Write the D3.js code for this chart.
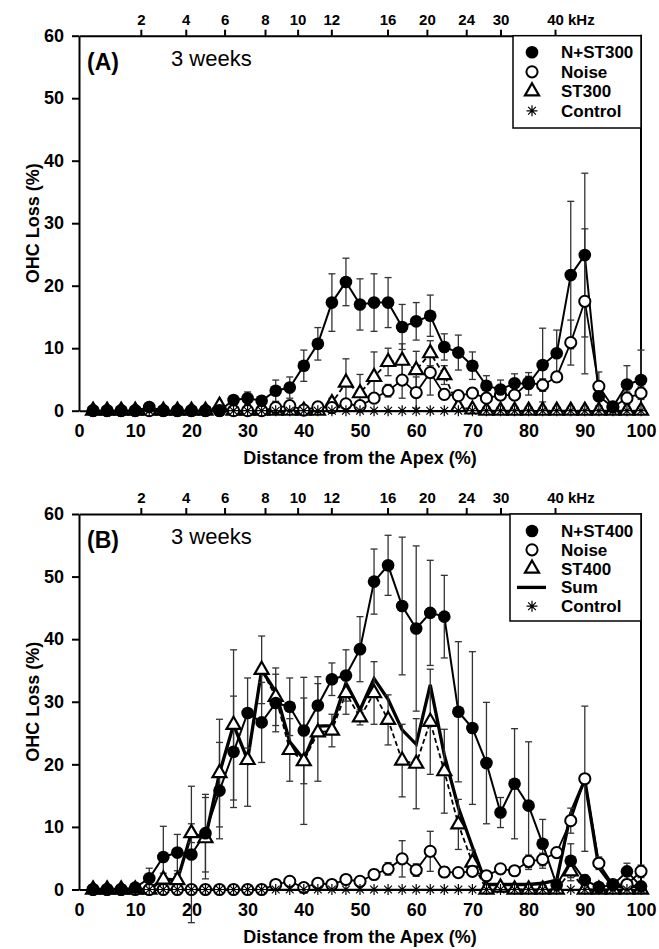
<!DOCTYPE html>
<html>
<head>
<meta charset="utf-8">
<script src="https://cdn.jsdelivr.net/npm/d3@7"></script>
<style>
  body { margin: 0; background: #fff; }
  svg { display: block; font-family: Arial, "Liberation Sans", sans-serif; }
</style>
</head>
<body>
<svg width="659" height="949"></svg>
<script>
// distance from the apex (%) of every sampled point
var distance = [2.5, 5, 7.5, 10, 12.5, 15, 17.5, 20, 22.5, 25,
  27.5, 30, 32.5, 35, 37.5, 40, 42.5, 45, 47.5, 50,
  52.5, 55, 57.5, 60, 62.5, 65, 67.5, 70, 72.5, 75,
  77.5, 80, 82.5, 85, 87.5, 90, 92.5, 95, 97.5, 100];

// axis ticks
var xTicks = [0, 10, 20, 30, 40, 50, 60, 70, 80, 90, 100];
var yTicks = [0, 10, 20, 30, 40, 50, 60];
var freqLabels = ["2", "4", "6", "8", "10", "12", "16", "20", "24", "30", "40"];
var freqDistance = [11.0, 19.0, 25.9, 33.1, 38.9, 44.9, 54.9, 61.9, 68.9, 75.0, 84.7];

// panel A: OHC loss (%) and error
var nst300 = [0, 0, 0, 0, 0.6, 0, 0, 0, 0, 0,
  1.7, 2.0, 1.6, 3.2, 3.7, 7.2, 10.7, 17.3, 20.6, 17.0,
  17.3, 17.3, 13.4, 14.3, 15.2, 10.2, 9.3, 7.2, 4.0, 3.4,
  4.4, 4.3, 7.3, 9.2, 21.7, 24.9, 2.3, 0.6, 4.2, 4.9];
var nst300Err = [0, 0, 0, 0, 0.3, 0, 0, 0, 0, 0,
  0.7, 1.0, 0.5, 1.7, 1.7, 2.5, 2.6, 4.6, 3.8, 4.1,
  4.6, 4.0, 3.6, 3.0, 3.3, 2.1, 2.8, 2.2, 1.6, 1.5,
  1.5, 1.8, 5.9, 3.7, 11.8, 13.1, 1.5, 0.3, 3.0, 4.8];
var noiseA = [0, 0, 0, 0, 0, 0, 0, 0, 0, 0,
  0, 0, 0, 0.5, 0.8, 0.1, 0.6, 0.5, 1.1, 0.8,
  2.0, 3.2, 4.9, 2.9, 6.1, 2.6, 2.4, 2.8, 2.0, 2.5,
  2.5, 4.5, 4.1, 5.4, 10.9, 17.5, 3.9, 0.6, 2.0, 2.8];
var noiseAErr = [0, 0, 0, 0, 0, 0, 0, 0, 0, 0,
  0, 0, 0, 0.5, 0.5, 0.3, 0.5, 0.5, 0.6, 0.6,
  0.5, 1.0, 2.9, 2.5, 3.6, 0.8, 0.5, 0.8, 0.5, 0.5,
  0.5, 1.0, 1.0, 0.8, 3.6, 11.6, 2.3, 0.3, 1.0, 1.0];
var st300 = [0, 0, 0, 0, 0, 0, 0, 0, 0, 0.8,
  0, 0, 0, 0, 0, 0, 0, 1.2, 4.5, 2.8,
  5.4, 7.8, 8.0, 6.5, 9.2, 5.7, 0.6, 0.2, 0, 0,
  0, 0, 0, 0, 0, 0, 0, 0, 0, 0];
var st300Err = [0, 0, 0, 0, 0, 0, 0, 0, 0, 0,
  0, 0, 0, 0, 0, 0, 0, 0.8, 3.8, 3.0,
  4.0, 2.2, 2.7, 3.0, 2.0, 1.5, 0.5, 0, 0, 0,
  0, 0, 0, 0, 0, 0, 0, 0, 0, 0];

// panel B
var nst400 = [0, 0, 0, 0.3, 1.8, 5.2, 5.9, 5.6, 9.0, 15.8,
  22.0, 28.2, 26.7, 29.8, 29.2, 25.4, 29.4, 33.6, 34.2, 38.4,
  49.2, 51.8, 45.3, 41.7, 44.2, 43.6, 28.4, 25.8, 20.2, 12.3,
  16.9, 13.4, 7.3, 0.7, 4.6, 1.5, 0.4, 0.7, 2.9, 0.5];
var nst400Err = [0, 0, 0, 0.3, 1.6, 4.9, 2.9, 10.9, 6.2, 7.7,
  8.9, 5.6, 6.4, 4.6, 4.6, 8.5, 4.6, 2.6, 4.1, 5.2,
  5.2, 4.8, 11.0, 13.2, 8.4, 6.6, 11.2, 12.2, 9.7, 2.4,
  8.8, 10.2, 3.9, 1.0, 2.7, 0.8, 0.5, 0, 1.3, 0.5];
var noiseB = [0, 0, 0, 0, 0, 0, 0, 0, 0, 0,
  0, 0, 0, 0.8, 1.3, 0.3, 1.0, 0.8, 1.6, 1.3,
  2.4, 3.3, 4.9, 3.1, 6.1, 2.8, 2.7, 2.9, 2.2, 3.3,
  3.0, 4.5, 4.8, 5.9, 11.0, 17.7, 4.2, 0.8, 0.8, 2.9];
var noiseBErr = [0, 0, 0, 0, 0, 0, 0, 0, 0, 0,
  0, 0, 0, 0.5, 0.5, 0.3, 0.5, 0.5, 0.5, 0.5,
  0.8, 1.0, 2.9, 1.0, 3.2, 0.8, 0.5, 0.5, 0.5, 0.5,
  0.5, 1.0, 1.0, 0.8, 2.0, 11.6, 1.0, 0.3, 0.5, 1.0];
var st400 = [0, 0, 0, 0, 0, 1.6, 1.5, 9.0, 8.2, 18.6,
  26.3, 20.7, 35.1, 30.8, 22.3, 20.5, 25.1, 25.4, 31.4, 27.5,
  31.4, 27.1, 20.6, 20.1, 26.8, 18.9, 10.4, 4.3, 0, 0.3,
  0, 0, 0, 0, 2.9, 0, 0, 0, 0, 0];
var st400Err = [0, 0, 0, 0, 0, 1.0, 1.0, 1.5, 6.5, 8.6,
  12.0, 7.4, 5.4, 4.6, 5.0, 10.1, 7.8, 2.6, 3.4, 1.2,
  5.0, 4.0, 5.8, 7.2, 8.4, 6.7, 4.0, 2.0, 0, 0,
  0, 0, 0, 0, 1.5, 0, 0, 0, 0, 0];
var sumB = [0, 0, 0, 0, 0, 1.7, 1.5, 9.0, 8.2, 18.6,
  26.3, 20.7, 35.1, 31.6, 23.6, 20.8, 26.1, 26.2, 33.0, 28.7,
  33.7, 30.4, 25.5, 23.2, 32.7, 21.5, 13.1, 6.8, 0.8, 0.8,
  0.8, 0.8, 1.0, 1.5, 12.2, 17.5, 3.5, 0.5, 0.5, 0.5];

// control is flat at zero in both panels
var control = [0, 0, 0, 0, 0, 0, 0, 0, 0, 0,
  0, 0, 0, 0, 0, 0, 0, 0, 0, 0,
  0, 0, 0, 0, 0, 0, 0, 0, 0, 0,
  0, 0, 0, 0, 0, 0, 0, 0, 0, 0];

// 8 armed asterisk, the library one only has 6
var asterisk = {
  draw: function(context, size) {
    let r = Math.sqrt(size) / 2;
    let d = r * Math.SQRT1_2;
    context.moveTo(-r, 0); context.lineTo(r, 0);
    context.moveTo(0, -r); context.lineTo(0, r);
    context.moveTo(-d, -d); context.lineTo(d, d);
    context.moveTo(-d, d); context.lineTo(d, -d);
  }
};

var markers = {
  filled: { type: d3.symbolCircle, size: 125, fill: "#000", stroke: "none", sw: 0 },
  open: { type: d3.symbolCircle, size: 98, fill: "#fff", stroke: "#000", sw: 2 },
  tri: { type: d3.symbolTriangle, size: 85, fill: "#fff", stroke: "#000", sw: 2.2 },
  star: { type: asterisk, size: 120, fill: "none", stroke: "#000", sw: 1.2 }
};

var svg = d3.select("svg");
var x = d3.scaleLinear().domain([0, 100]).range([79, 641]);

var toPoints = function(values, errs) {
  return values.map(function(v, i) {
    return { x: distance[i], y: v, e: errs ? errs[i] : 0 };
  });
};

var drawPanel = function(cfg) {
  let y = d3.scaleLinear().domain([0, 60]).range([cfg.bottom, cfg.top]);
  let g = svg.append("g");

  // axes: left with outward ticks, top with frequency ticks
  let yAxis = d3.axisLeft(y).tickValues(yTicks).tickSize(7).tickPadding(8).tickSizeOuter(0);
  let yGroup = g.append("g").attr("transform", "translate(" + x(0) + ",0)").call(yAxis);

  let xAxis = d3.axisBottom(x).tickValues(xTicks).tickSize(0).tickPadding(13.5).tickSizeOuter(0);
  let xGroup = g.append("g").attr("transform", "translate(0," + cfg.bottom + ")").call(xAxis);

  let fAxis = d3.axisTop(x).tickValues(freqDistance)
    .tickFormat(function(d, i) { return freqLabels[i]; })
    .tickSize(6).tickPadding(5).tickSizeOuter(0);
  let fGroup = g.append("g").attr("transform", "translate(0," + cfg.top + ")").call(fAxis);

  [yGroup, xGroup, fGroup].forEach(function(a) {
    a.attr("font-family", null).attr("font-size", null);
    a.selectAll("text").style("font-weight", "bold").style("font-size", "18px").attr("fill", "#000");
    a.selectAll("line").attr("stroke", "#000").attr("stroke-width", 2);
    a.select(".domain").attr("stroke", "#000").attr("stroke-width", 2);
  });
  fGroup.selectAll("text").style("font-size", "15px");

  // the last frequency label carries the unit
  let lastTick = fGroup.selectAll(".tick text").filter(function(d, i, n) { return i === n.length - 1; });
  let w = lastTick.node().getComputedTextLength();
  lastTick.attr("text-anchor", "start").attr("x", -w / 2);
  lastTick.append("tspan").text(" kHz");

  // right frame
  g.append("line")
    .attr("x1", x(100)).attr("x2", x(100))
    .attr("y1", cfg.top - 1).attr("y2", cfg.bottom)
    .attr("stroke", "#000").attr("stroke-width", 2);

  // titles
  g.append("text")
    .attr("transform", "translate(39," + (cfg.top + cfg.bottom) / 2 + ") rotate(-90)")
    .attr("text-anchor", "middle")
    .style("font-weight", "bold").style("font-size", "18px")
    .text("OHC Loss (%)");
  g.append("text")
    .attr("x", (x(0) + x(100)) / 2).attr("y", cfg.bottom + 53)
    .attr("text-anchor", "middle")
    .style("font-weight", "bold").style("font-size", "18px")
    .text("Distance from the Apex (%)");
  g.append("text")
    .attr("x", 87).attr("y", cfg.top + 34)
    .style("font-weight", "bold").style("font-size", "23px")
    .text(cfg.letter);
  g.append("text")
    .attr("x", 171).attr("y", cfg.top + 30)
    .style("font-size", "22px")
    .text("3 weeks");

  // lines first
  let line = d3.line().x(function(d) { return x(d.x); }).y(function(d) { return y(d.y); });
  cfg.series.forEach(function(s) {
    if (!s.width) return;
    g.append("path")
      .datum(toPoints(s.values))
      .attr("d", line)
      .attr("fill", "none")
      .attr("stroke", "#000")
      .attr("stroke-width", s.width)
      .attr("stroke-dasharray", s.dash || null);
  });

  // error bars
  cfg.series.forEach(function(s) {
    if (!s.errs) return;
    let pts = toPoints(s.values, s.errs).filter(function(d) { return d.e > 0; });
    let eb = g.append("g").attr("stroke", "#333").attr("stroke-width", 1.3);
    eb.selectAll("line.v").data(pts).enter().append("line")
      .attr("x1", function(d) { return x(d.x); }).attr("x2", function(d) { return x(d.x); })
      .attr("y1", function(d) { return y(d.y - d.e); }).attr("y2", function(d) { return y(d.y + d.e); });
    eb.selectAll("line.top").data(pts).enter().append("line")
      .attr("x1", function(d) { return x(d.x) - 3.5; }).attr("x2", function(d) { return x(d.x) + 3.5; })
      .attr("y1", function(d) { return y(d.y + d.e); }).attr("y2", function(d) { return y(d.y + d.e); });
    eb.selectAll("line.bot").data(pts).enter().append("line")
      .attr("x1", function(d) { return x(d.x) - 3.5; }).attr("x2", function(d) { return x(d.x) + 3.5; })
      .attr("y1", function(d) { return y(d.y - d.e); }).attr("y2", function(d) { return y(d.y - d.e); });
  });

  // markers on top
  cfg.series.forEach(function(s) {
    if (!s.marker) return;
    let m = markers[s.marker];
    let sym = d3.symbol().type(m.type).size(m.size);
    g.selectAll(null).data(toPoints(s.values)).enter().append("path")
      .attr("transform", function(d) { return "translate(" + x(d.x) + "," + y(d.y) + ")"; })
      .attr("d", sym)
      .attr("fill", m.fill).attr("stroke", m.stroke).attr("stroke-width", m.sw);
  });

  // legend box in the top right corner
  let lg = g.append("g");
  lg.append("rect")
    .attr("x", cfg.legend.left).attr("y", cfg.top)
    .attr("width", x(100) - cfg.legend.left).attr("height", cfg.legend.bottom - cfg.top)
    .attr("fill", "#fff").attr("stroke", "#000").attr("stroke-width", 1.5);
  cfg.legend.items.forEach(function(it, i) {
    let cy = cfg.top + cfg.legend.first + i * cfg.legend.step;
    if (it.marker) {
      let m = markers[it.marker];
      lg.append("path")
        .attr("transform", "translate(532," + cy + ")")
        .attr("d", d3.symbol().type(m.type).size(m.size))
        .attr("fill", m.fill).attr("stroke", m.stroke).attr("stroke-width", m.sw);
    } else {
      lg.append("line")
        .attr("x1", 517).attr("x2", 546).attr("y1", cy).attr("y2", cy)
        .attr("stroke", "#000").attr("stroke-width", 3.3);
    }
    lg.append("text")
      .attr("x", 561).attr("y", cy + 6)
      .style("font-weight", "bold").style("font-size", "17px")
      .text(it.label);
  });
};

drawPanel({
  top: 35.7, bottom: 410.7, letter: "(A)",
  series: [
    { values: control, width: 1.6, marker: null },
    { values: st300, errs: st300Err, width: 1.8, dash: "5,3", marker: "tri" },
    { values: noiseA, errs: noiseAErr, width: 1.8, marker: "open" },
    { values: nst300, errs: nst300Err, width: 2, marker: "filled" },
    { values: control, width: 0, marker: "star" }
  ],
  legend: {
    left: 513, bottom: 128, first: 16.6, step: 19.5,
    items: [
      { marker: "filled", label: "N+ST300" },
      { marker: "open", label: "Noise" },
      { marker: "tri", label: "ST300" },
      { marker: "star", label: "Control" }
    ]
  }
});

drawPanel({
  top: 514, bottom: 889.5, letter: "(B)",
  series: [
    { values: control, width: 1.6, marker: null },
    { values: st400, errs: st400Err, width: 1.8, dash: "5,3", marker: null },
    { values: sumB, width: 3.3, marker: null },
    { values: st400, width: 0, marker: "tri" },
    { values: noiseB, errs: noiseBErr, width: 1.8, marker: "open" },
    { values: nst400, errs: nst400Err, width: 2, marker: "filled" },
    { values: control, width: 0, marker: "star" }
  ],
  legend: {
    left: 510, bottom: 621, first: 17, step: 18.8,
    items: [
      { marker: "filled", label: "N+ST400" },
      { marker: "open", label: "Noise" },
      { marker: "tri", label: "ST400" },
      { marker: null, label: "Sum" },
      { marker: "star", label: "Control" }
    ]
  }
});
</script>
</body>
</html>
